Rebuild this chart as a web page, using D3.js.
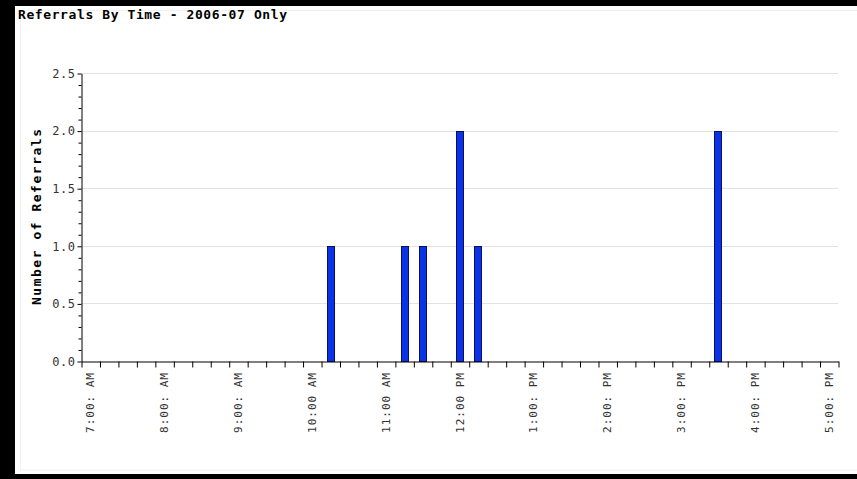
<!DOCTYPE html>
<html>
<head>
<meta charset="utf-8">
<script src="https://cdn.jsdelivr.net/npm/d3@7"></script>
<style>
  html, body { margin: 0; padding: 0; background: #000; }
  svg { display: block; }
</style>
</head>
<body>
<svg id="chart" width="857" height="479"></svg>
<script>
// ---- data ----
const title = "Referrals By Time - 2006-07 Only";
const yTitle = "Number of Referrals";
const bins = [
  "7:00 AM","7:15 AM","7:30 AM","7:45 AM",
  "8:00 AM","8:15 AM","8:30 AM","8:45 AM",
  "9:00 AM","9:15 AM","9:30 AM","9:45 AM",
  "10:00 AM","10:15 AM","10:30 AM","10:45 AM",
  "11:00 AM","11:15 AM","11:30 AM","11:45 AM",
  "12:00 PM","12:15 PM","12:30 PM","12:45 PM",
  "1:00 PM","1:15 PM","1:30 PM","1:45 PM",
  "2:00 PM","2:15 PM","2:30 PM","2:45 PM",
  "3:00 PM","3:15 PM","3:30 PM","3:45 PM",
  "4:00 PM","4:15 PM","4:30 PM","4:45 PM",
  "5:00 PM"
];
const referrals = [
  0,0,0,0,
  0,0,0,0,
  0,0,0,0,
  0,1,0,0,
  0,1,1,0,
  2,1,0,0,
  0,0,0,0,
  0,0,0,0,
  0,0,2,0,
  0,0,0,0,
  0
];
const hourBins = ["7:00 AM","8:00 AM","9:00 AM","10:00 AM","11:00 AM","12:00 PM","1:00 PM","2:00 PM","3:00 PM","4:00 PM","5:00 PM"];
const hourLabels = ["7:00: AM","8:00: AM","9:00: AM","10:00 AM","11:00 AM","12:00 PM","1:00: PM","2:00: PM","3:00: PM","4:00: PM","5:00: PM"];
const yMajorTicks = [0, 0.5, 1.0, 1.5, 2.0, 2.5];
const yMinorTicks = [0.1,0.2,0.3,0.4,0.6,0.7,0.8,0.9,1.1,1.2,1.3,1.4,1.6,1.7,1.8,1.9,2.1,2.2,2.3,2.4];

// ---- drawing ----
const svg = d3.select("#chart");
const L = 81, R = 838, T = 73, B = 361;
const mono = "'DejaVu Sans Mono', 'Liberation Mono', monospace";

svg.append("rect").attr("x", 15).attr("y", 6).attr("width", 842).attr("height", 468).attr("fill", "#fff");
svg.append("rect").attr("x", 20.5).attr("y", 10.5).attr("width", 840).attr("height", 459.5)
  .attr("fill", "none").attr("stroke", "#f0f0f0");

svg.append("text").attr("x", 18).attr("y", 19)
  .attr("font-family", mono).attr("font-weight", "bold").attr("font-size", 13)
  .attr("textLength", 269).attr("lengthAdjust", "spacing")
  .attr("fill", "#000").text(title);

const x = d3.scaleBand().domain(bins).range([L, R]).paddingInner(0).paddingOuter(0);
const xi = d3.scaleLinear().domain([0, bins.length]).range([L, R]);
const y = d3.scaleLinear().domain([0, 2.5]).range([B, T]);

// gridlines
svg.append("g").selectAll("line").data(yMajorTicks.filter(d => d > 0)).join("line")
  .attr("x1", L).attr("x2", R)
  .attr("y1", d => Math.round(y(d)) + 0.5).attr("y2", d => Math.round(y(d)) + 0.5)
  .attr("stroke", "#e2e2e2").attr("stroke-width", 1);

// bars
const bw = 7;
svg.append("g").selectAll("rect").data(bins.map((b, i) => ({ b, v: referrals[i] })).filter(d => d.v > 0)).join("rect")
  .attr("x", d => Math.round(x(d.b) + x.bandwidth() / 2 - bw / 2) + 0.5)
  .attr("y", d => Math.round(y(d.v)) + 0.5)
  .attr("width", bw)
  .attr("height", d => Math.round(B) - Math.round(y(d.v)))
  .attr("fill", "#0a33e8").attr("stroke", "#0a1060").attr("stroke-width", 1);

// y axis minor ticks
const yMinor = svg.append("g").attr("transform", `translate(${L + 0.5},0.5)`)
  .call(d3.axisLeft(y).tickValues(yMinorTicks).tickSize(3).tickFormat(""));
yMinor.select(".domain").remove();

// y axis major
const yAxis = svg.append("g").attr("transform", `translate(${L + 0.5},0.5)`)
  .call(d3.axisLeft(y).tickValues(yMajorTicks).tickSize(4).tickSizeOuter(0).tickPadding(2).tickFormat(d3.format(".1f")));
yAxis.selectAll("text").attr("font-family", mono).attr("font-size", 12).attr("fill", "#333")
  .attr("letter-spacing", 0.5);
yAxis.selectAll("line,path").attr("stroke", "#000");

// x axis
const xAxis = svg.append("g").attr("transform", `translate(0.5,${B + 0.5})`)
  .call(d3.axisBottom(xi).tickValues(d3.range(bins.length + 1)).tickSize(6).tickSizeOuter(0).tickFormat(""));
xAxis.selectAll("line,path").attr("stroke", "#000");

// x labels (rotated)
svg.append("g").selectAll("text").data(hourBins).join("text")
  .attr("transform", (d) => `translate(${x(d) + x.bandwidth() / 2 + 4},${B + 11}) rotate(-90)`)
  .attr("text-anchor", "end")
  .attr("font-family", mono).attr("font-size", 11).attr("letter-spacing", 1).attr("fill", "#333")
  .text((d, i) => hourLabels[i]);

// y title
svg.append("text")
  .attr("transform", `translate(${41},${(T + B) / 2}) rotate(-90)`)
  .attr("text-anchor", "middle")
  .attr("font-family", mono).attr("font-weight", "bold").attr("font-size", 13)
  .attr("textLength", 176).attr("lengthAdjust", "spacing")
  .attr("fill", "#000").text(yTitle);
</script>
</body>
</html>
